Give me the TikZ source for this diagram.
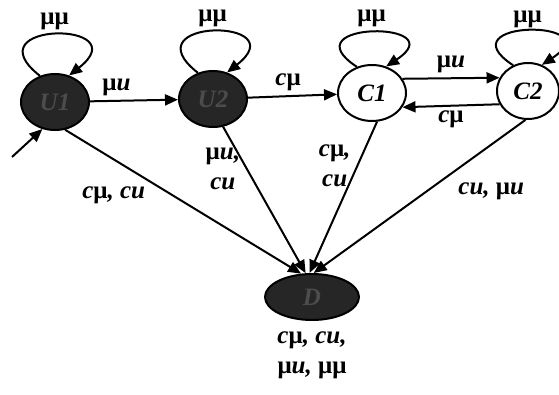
\documentclass[tikz,border=0pt]{standalone}
\usepackage{fontspec}
\setmainfont{Liberation Serif}
\usetikzlibrary{shapes.geometric,arrows.meta}
\newcommand{\gmu}{\textup{μ}}

\begin{document}
\begin{tikzpicture}[x=0.5pt,y=-0.5pt,>={Triangle[length=6.5pt,width=5.5pt]},line width=1pt,
	font=\fontsize{12.5}{15}\selectfont\bfseries\itshape,
	state/.style={draw,ellipse,line width=1pt,minimum width=34pt,minimum height=28pt,inner sep=0pt},
	dark/.style={state,fill=black!85,text=black!70},
	lbl/.style={inner sep=2pt,align=center}]
	
	\useasboundingbox (0,0) rectangle (559,395);
	
	% allapotok
	\node[dark] (u1) at (55,102) {U1};
	\node[dark] (u2) at (213,99) {U2};
	\node[state] (c1) at (372,93) {C1};
	\node[state,minimum width=31pt] (c2) at (528,91) {C2};
	\node[dark,minimum width=47pt,minimum height=23pt,
	label={[lbl,label distance=3pt]below:c\gmu, cu,\\\gmu u, \gmu\gmu}] (d) at (312,297) {D};
	
	\coordinate (start) at (12,157);
	
	% hurkok
	\draw[->] (u1.120) .. controls +(-70,-55) and +(70,-55) .. (u1.62) node[pos=.5,above,lbl]{\gmu\gmu};
	\draw[->] (u2.120) .. controls +(-70,-55) and +(70,-55) .. (u2.62) node[pos=.5,above,lbl]{\gmu\gmu};
	\draw[->] (c1.120) .. controls +(-70,-46) and +(70,-46) .. (c1.62) node[pos=.5,above,lbl]{\gmu\gmu};
	\draw[->] (c2.120) .. controls +(-70,-46) and +(70,-46) .. (c2.62) node[pos=.5,above,lbl,inner sep=1pt]{\gmu\gmu};
	
	% vizszintes elek
	\draw[->] (start) -- (u1.245);
	\draw[->] (u1) -- (u2) node[pos=.3,above,lbl]{\gmu u};
	\draw[->] (u2) -- (c1) node[pos=.45,above,lbl]{c\gmu};
	\draw[->] (c1.25) -- (c2.155) node[midway,above,lbl]{\gmu u};
	\draw[->] (c2.205) -- (c1.335) node[midway,below,lbl]{c\gmu};
	
	% elek a D-be
	\draw[->] (u1.290) -- (d.115) node[pos=.36,anchor=north east,lbl]{c\gmu, cu};
	\draw[->] (u2.290) -- (d.105) node[pos=.29,anchor=east,lbl,inner sep=3pt]{\gmu u,\\cu};
	\draw[->] (c1.280) -- (d.96) node[pos=.29,anchor=east,lbl,inner sep=3pt]{c\gmu,\\cu};
	\draw[->] (c2.265) -- (d.86) node[pos=.34,anchor=north west,lbl,yshift=-3pt]{cu, \gmu u};
\end{tikzpicture}
\end{document}
